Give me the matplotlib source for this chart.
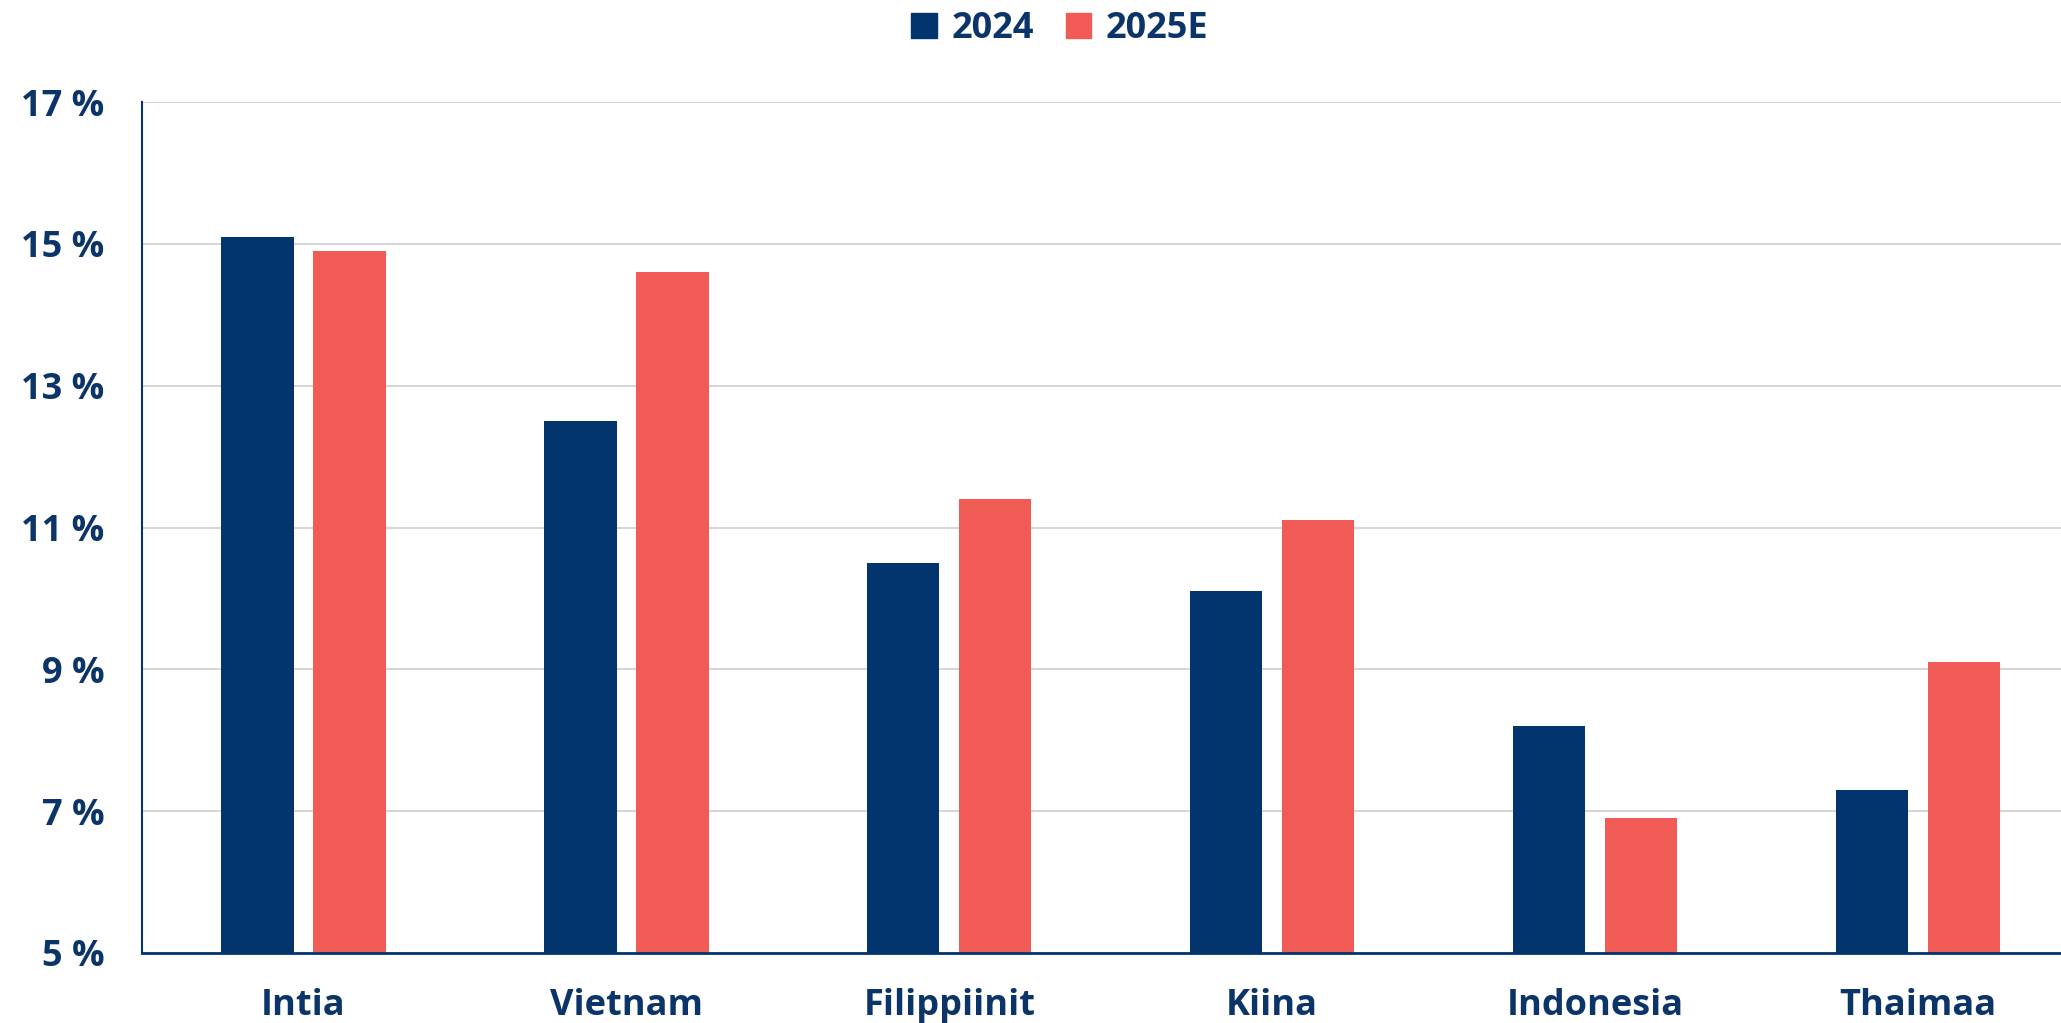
import numpy as np
import matplotlib.pyplot as plt
from matplotlib.patches import Patch

# Data
maat = ['Intia', 'Vietnam', 'Filippiinit', 'Kiina', 'Indonesia', 'Thaimaa']
arvot_2024 = [15.1, 12.5, 10.5, 10.1, 8.2, 7.3]
arvot_2025e = [14.9, 14.6, 11.4, 11.1, 6.9, 9.1]
y_ticks = [5, 7, 9, 11, 13, 15, 17]

navy = '#02346D'
coral = '#F05B55'
text_col = '#0B3468'

plt.rcParams['font.family'] = ['Open Sans', 'DejaVu Sans']
plt.rcParams['font.weight'] = 'bold'

fig = plt.figure(figsize=(20.61, 10.23), dpi=100)
ax = fig.add_axes([142 / 2061, 1 - 953 / 1023, 1 - 142 / 2061, (953 - 102) / 1023])

x = np.arange(len(maat))
w = 0.224
ax.bar(x - 0.1425, np.array(arvot_2024) - 5, bottom=5, width=w, color=navy, zorder=3)
ax.bar(x + 0.1425, np.array(arvot_2025e) - 5, bottom=5, width=w, color=coral, zorder=3)

# oikea reuna leikkautuu hieman kuten alkuperäisessä
ax.set_xlim(-0.5, 5.443)
ax.set_ylim(5, 17)
ax.set_yticks(y_ticks)
ax.set_yticklabels([f'{t} %' for t in y_ticks])
ax.set_xticks(x)
ax.set_xticklabels(maat)
ax.tick_params(axis='both', length=0, labelsize=26, labelcolor=text_col)
ax.tick_params(axis='y', pad=27)
ax.tick_params(axis='x', pad=25)
for lab in ax.get_xticklabels() + ax.get_yticklabels():
    lab.set_fontweight('bold')

ax.grid(axis='y', color='#D6D6D6', linewidth=1.5, zorder=0)
ax.set_axisbelow(True)
for s in ['top', 'right']:
    ax.spines[s].set_visible(False)
ax.spines['left'].set_color(navy)
ax.spines['left'].set_linewidth(1.5)
ax.spines['bottom'].set_color(navy)
ax.spines['bottom'].set_linewidth(2)
ax.spines['bottom'].set_zorder(4)

handles = [Patch(color=navy, label='2024'), Patch(color=coral, label='2025E')]
leg = fig.legend(handles=handles, loc='center', bbox_to_anchor=(1060 / 2061, 1 - 29 / 1023),
                 ncol=2, frameon=False, fontsize=26, handlelength=0.7, handleheight=0.7,
                 handletextpad=0.4, columnspacing=0.9)
for t in leg.get_texts():
    t.set_color(text_col)
    t.set_fontweight('bold')

fig.savefig('out.png', dpi=100)
